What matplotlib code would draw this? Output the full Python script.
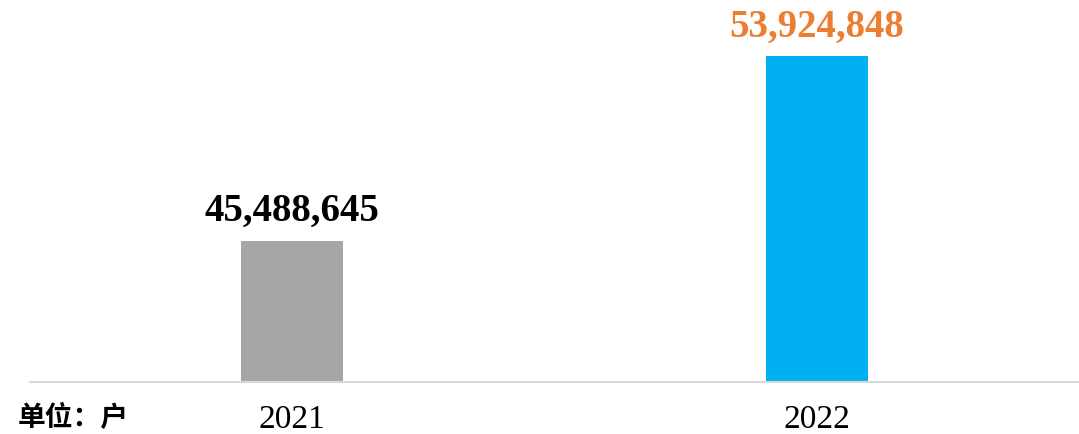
import matplotlib.pyplot as plt

years = ["2021", "2022"]
households = [45488645, 53924848]
bar_colors = ["#A6A6A6", "#00B0F0"]
label_colors = ["#000000", "#ED7D31"]

plt.rcParams['font.family'] = ['Liberation Serif', 'DejaVu Serif']

fig = plt.figure(figsize=(10.79, 4.34), dpi=100)
ax = fig.add_axes([30 / 1079, 52 / 434, 1 - 30 / 1079, 1 - 52 / 434])

x = range(len(years))
bars = ax.bar(x, households, width=0.195, color=bar_colors)

for rect, val, c in zip(bars, households, label_colors):
    ax.annotate(f"{val:,}", (rect.get_x() + rect.get_width() / 2, val),
                xytext=(0, 11), textcoords='offset pixels',
                ha='center', va='bottom', fontsize=28, fontweight='bold', color=c)

ax.set_xlim(-0.5, 1.5)
ax.set_ylim(39070000, 56500000)
ax.set_xticks(list(x), years, fontsize=24)
ax.tick_params(axis='x', length=0, pad=16)
ax.set_yticks([])
for s in ['top', 'left', 'right']:
    ax.spines[s].set_visible(False)
ax.spines['bottom'].set_color('#D9D9D9')
ax.spines['bottom'].set_linewidth(1.5)

# unit note in the lower-left corner
fig.text(18 / 1079, 0.004, "单位：户", fontsize=20, fontweight='bold',
         family=['Noto Sans CJK SC', 'DejaVu Sans'], ha='left', va='bottom')

fig.savefig("out.png", dpi=100)
